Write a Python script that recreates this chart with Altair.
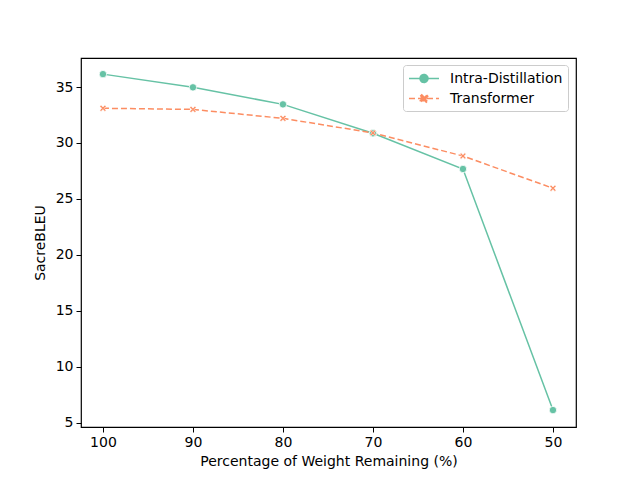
import altair as alt
import pandas as pd

pct = [100, 90, 80, 70, 60, 50]
intra = [36.15, 34.97, 33.45, 30.87, 27.68, 6.15]
transformer = [33.1, 33.0, 32.2, 30.9, 28.84, 25.96]
series = ["Intra-Distillation", "Transformer"]
colors = ["#66c2a5", "#fc8d62"]
x_ticks = [100, 90, 80, 70, 60, 50]
y_ticks = [5, 10, 15, 20, 25, 30, 35]

rows = []
for p, v in zip(pct, intra):
    rows.append({"pct": p, "bleu": v, "model": series[0]})
for p, v in zip(pct, transformer):
    rows.append({"pct": p, "bleu": v, "model": series[1]})
df = pd.DataFrame(rows)

X_PTS = [(-1, -0.6), (-0.6, -1), (0, -0.4), (0.6, -1), (1, -0.6), (0.4, 0), (1, 0.6),
         (0.6, 1), (0, 0.4), (-0.6, 1), (-1, 0.6), (-0.4, 0)]


def xpath(scale=1.0, dx=0.0):
    return "M" + "L".join(f"{x * scale + dx:.3f},{y * scale:.3f}" for x, y in X_PTS) + "Z"


XMARK = xpath()
r = 0.53
LEG_CIRCLE = (f"M-1,0L3,0M{1 + r},0A{r},{r} 0 1,1 {1 - r},0A{r},{r} 0 1,1 {1 + r},0Z")
LEG_X = "M-1,0L3,0" + xpath(0.5, 1.0)

font = "DejaVu Sans"
fs = 14

x_enc = alt.X("pct:Q",
              scale=alt.Scale(domain=[47.44, 102.44], reverse=True, nice=False, zero=False),
              axis=alt.Axis(values=x_ticks, title="Percentage of Weight Remaining (%)",
                            grid=False, tickColor="black",
                            labelColor="black", titleColor="black", tickSize=5,
                            labelFontSize=fs, titleFontSize=fs, labelFont=font, titleFont=font,
                            titleFontWeight="normal", labelPadding=3, titlePadding=5,
                            domain=False))
y_enc = alt.Y("bleu:Q",
              scale=alt.Scale(domain=[4.64, 37.59], nice=False, zero=False),
              axis=alt.Axis(values=y_ticks, title="SacreBLEU",
                            grid=False, tickColor="black",
                            labelColor="black", titleColor="black", tickSize=5,
                            labelFontSize=fs, titleFontSize=fs, labelFont=font, titleFont=font,
                            titleFontWeight="normal", labelPadding=3, titlePadding=8,
                            domain=False))

color_scale = alt.Scale(domain=series, range=colors)
dash_scale = alt.Scale(domain=series, range=[[1, 0], [6, 3]])

legend = alt.Legend(
    title=None, orient="none", legendX=322, legendY=7,
    labelFont=font, labelFontSize=fs, labelColor="black",
    symbolSize=225, symbolStrokeWidth=1.5, labelOffset=25, symbolOpacity=1,
    padding=5, rowPadding=4, fillColor="rgba(255,255,255,0.8)",
    strokeColor="#cccccc", cornerRadius=3,
)

line_intra = alt.Chart(df).transform_filter(
    alt.datum.model == series[0]
).mark_line(strokeWidth=1.5, color=colors[0]).encode(x=x_enc, y=y_enc)

line_trans = alt.Chart(df).transform_filter(
    alt.datum.model == series[1]
).mark_line(strokeWidth=1.5, color=colors[1], strokeDash=[6, 3]).encode(x=x_enc, y=y_enc)

pts_intra = alt.Chart(df).transform_filter(
    alt.datum.model == series[0]
).mark_point(filled=True, opacity=1, stroke="white", strokeWidth=0.8,
             shape="circle", size=55, color=colors[0]).encode(x=x_enc, y=y_enc)

pts_trans = alt.Chart(df).transform_filter(
    alt.datum.model == series[1]
).mark_point(filled=True, opacity=1, stroke="white", strokeWidth=0.6,
             shape=XMARK, size=40, color=colors[1]).encode(x=x_enc, y=y_enc)

legend_layer = alt.Chart(df).mark_point(
    opacity=0, size=225, strokeWidth=1.5
).encode(
    x=x_enc, y=y_enc,
    fill=alt.Fill("model:N", scale=color_scale, legend=legend),
    stroke=alt.Stroke("model:N", scale=color_scale, legend=legend),
    shape=alt.Shape("model:N", scale=alt.Scale(domain=series, range=[LEG_CIRCLE, LEG_X]),
                    legend=legend),
    strokeDash=alt.StrokeDash("model:N", scale=dash_scale, legend=legend),
)

chart = alt.layer(line_intra, line_trans, pts_intra, pts_trans, legend_layer).properties(
    width=495, height=369,
    autosize=alt.AutoSizeParams(type="none"),
    padding={"left": 73, "top": 50, "right": 56, "bottom": 45},
).configure_view(stroke="black", strokeWidth=1.2)

chart.save("out.html", embed_options={"renderer": "svg", "actions": False})
